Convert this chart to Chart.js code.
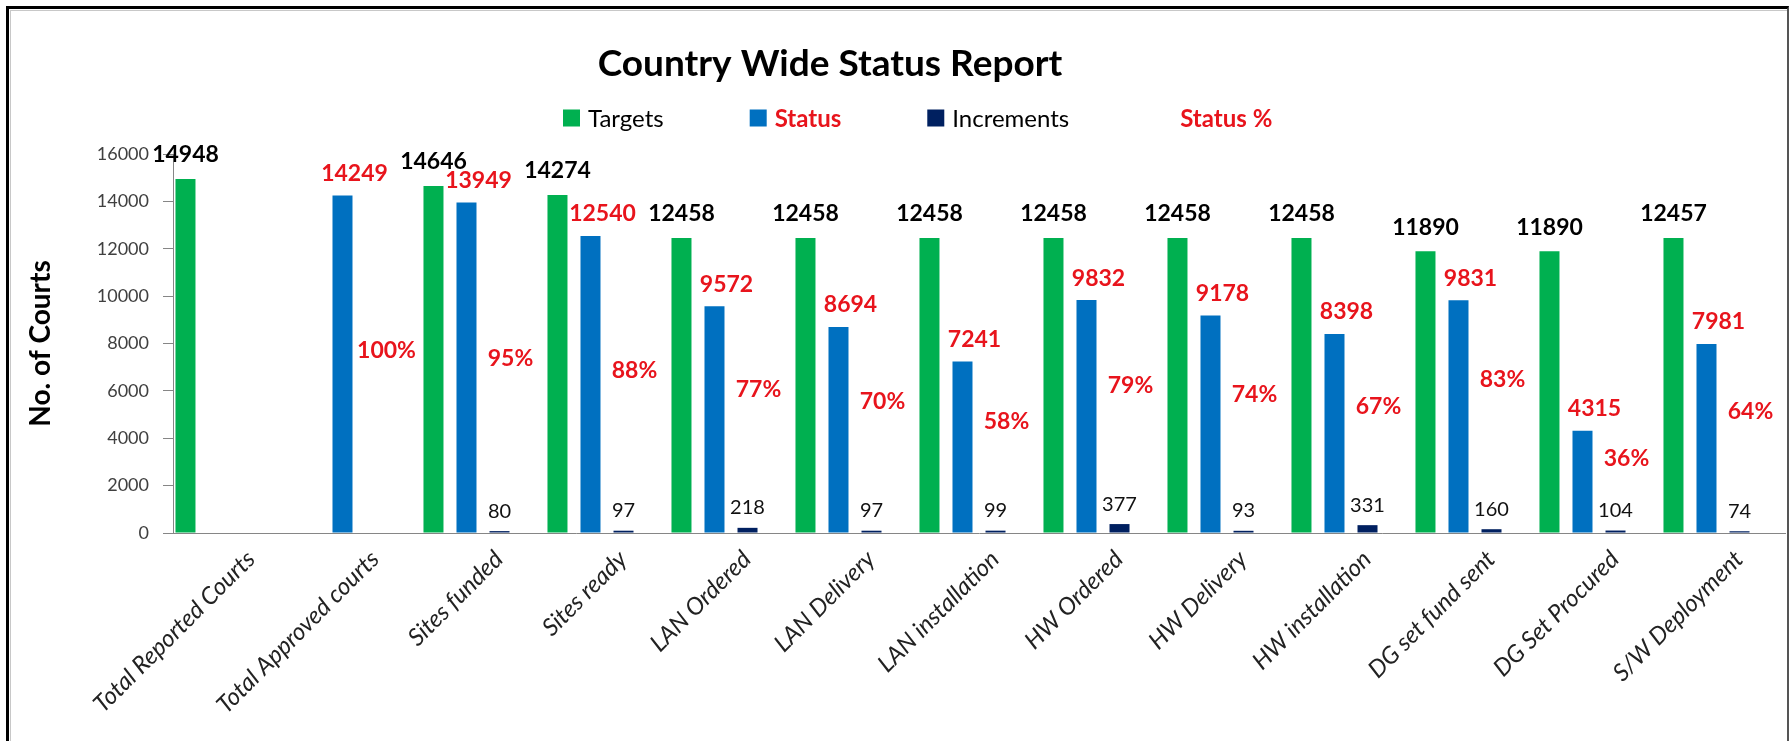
<!DOCTYPE html>
<html>
<head>
<meta charset="utf-8">
<script src="https://cdn.jsdelivr.net/npm/chart.js@4.4.1/dist/chart.umd.min.js"></script>
<style>
  html, body { margin: 0; padding: 0; background: #fff; }
  #wrap { position: relative; width: 1789px; height: 741px; overflow: hidden; background: #fff; }
  #chart { position: absolute; left: 0; top: 0; }
  /* picture frame: thick black on left/top, thin grey inside */
  #frame { position: absolute; left: 6px; top: 6px; width: 1778px; height: 800px;
           border-left: 3px solid #000; border-top: 3px solid #000; border-right: 2px solid #555; pointer-events: none; }
  #inner { position: absolute; left: 10px; top: 10px; width: 1800px; height: 800px;
           border-left: 1px solid #c8c8c8; border-top: 1px solid #c8c8c8; pointer-events: none; }
</style>
</head>
<body>
<div id="wrap">
  <canvas id="chart" width="1789" height="741"></canvas>
  <div id="inner"></div>
  <div id="frame"></div>
</div>
<script>
// chart data
const categories = [
  'Total Reported Courts', 'Total Approved courts', 'Sites funded', 'Sites ready',
  'LAN Ordered', 'LAN Delivery', 'LAN installation', 'HW Ordered', 'HW Delivery',
  'HW installation', 'DG set fund sent', 'DG Set Procured', 'S/W Deployment'
];
const targets    = [14948, null, 14646, 14274, 12458, 12458, 12458, 12458, 12458, 12458, 11890, 11890, 12457];
const status     = [null, 14249, 13949, 12540, 9572, 8694, 7241, 9832, 9178, 8398, 9831, 4315, 7981];
const increments = [null, null, 80, 97, 218, 97, 99, 377, 93, 331, 160, 104, 74];
const statusPct  = [null, 100, 95, 88, 77, 70, 58, 79, 74, 67, 83, 36, 64];

// y axis ticks
const yMin = 0;
const yMax = 16000;
const yStep = 2000;

const RED = '#E8141C';
Chart.defaults.font.family = 'Lato, "Open Sans", sans-serif';

// how each series' value labels look
const labelStyle = [
  { font: 'bold 23px Lato', color: '#000', dx: 0,   dy: 24, fmt: v => String(v) },
  { font: 'bold 23px Lato', color: RED,    dx: 12,  dy: 22, fmt: v => String(v) },
  { font: '20px Lato',      color: '#111', dx: 0,   dy: 20, fmt: v => String(v) },
  { font: 'bold 23px Lato', color: RED,    dx: -22, dy: 14, fmt: v => v + '%' }
];

// value labels above the bars
const valueLabels = {
  id: 'valueLabels',
  afterDatasetsDraw(chart) {
    const ctx = chart.ctx;
    ctx.save();
    ctx.textAlign = 'center';
    ctx.textBaseline = 'middle';
    chart.data.datasets.forEach((ds, i) => {
      const st = labelStyle[i];
      chart.getDatasetMeta(i).data.forEach((bar, j) => {
        const v = ds.data[j];
        if (v === null || v === undefined) return;
        ctx.font = st.font;
        ctx.fillStyle = st.color;
        ctx.fillText(st.fmt(v), bar.x + st.dx, bar.y - st.dy);
      });
    });
    ctx.restore();
  }
};

// title and legend drawn the way the spreadsheet placed them
const titleAndLegend = {
  id: 'titleAndLegend',
  afterDraw(chart) {
    const ctx = chart.ctx;
    ctx.save();
    ctx.fillStyle = '#000';
    ctx.font = 'bold 37px Lato';
    ctx.textAlign = 'center';
    ctx.textBaseline = 'alphabetic';
    ctx.fillText('Country Wide Status Report', 830, 76);

    // legend row
    let x = 563;
    const cy = 118;
    const box = 17;
    ctx.textAlign = 'left';
    ctx.textBaseline = 'middle';
    chart.data.datasets.forEach(ds => {
      if (ds.legendBox) {
        ctx.fillStyle = ds.legendBox;
        ctx.fillRect(x, cy - box / 2, box, box);
      }
      ctx.font = (ds.legendBold ? 'bold ' : '') + '24px Lato';
      ctx.fillStyle = ds.legendColor;
      ctx.fillText(ds.label, x + box + 8, cy + 1);
      x += box + 8 + ctx.measureText(ds.label).width + 86;
    });
    ctx.restore();
  }
};

const ctx = document.getElementById('chart').getContext('2d');
const chart = new Chart(ctx, {
  type: 'bar',
  data: {
    labels: categories,
    datasets: [
      { label: 'Targets', data: targets, backgroundColor: '#00B050',
        legendBox: '#00B050', legendColor: '#000', legendBold: false },
      { label: 'Status', data: status, backgroundColor: '#0070C0',
        legendBox: '#0070C0', legendColor: RED, legendBold: true },
      { label: 'Increments', data: increments, backgroundColor: '#002060',
        legendBox: '#002060', legendColor: '#000', legendBold: false },
      { label: 'Status %', data: statusPct, backgroundColor: 'rgba(0,0,0,0)', yAxisID: 'yPct',
        legendBox: null, legendColor: RED, legendBold: true }
    ]
  },
  options: {
    responsive: false,
    animation: false,
    categoryPercentage: 1.065,
    barPercentage: 0.606,
    layout: { padding: { top: 154, right: 4, bottom: 0, left: 0 } },
    plugins: {
      legend: { display: false },
      title: { display: false },
      tooltip: { enabled: false }
    },
    scales: {
      x: {
        grid: { display: false, drawTicks: false },
        border: { display: true, color: '#868686', width: 1 },
        ticks: {
          autoSkip: false, minRotation: 45, maxRotation: 45,
          color: '#222', padding: 12, labelOffset: 16,
          font: { size: 24, style: 'italic' }
        },
        afterFit(scale) { scale.height = 208; }
      },
      y: {
        min: yMin, max: yMax,
        ticks: { stepSize: yStep, color: '#404040', padding: 14, font: { size: 18 },
                 callback: v => String(v) },
        grid: { drawOnChartArea: false, drawTicks: true, tickLength: 10, color: '#868686' },
        border: { display: true, color: '#868686', width: 1 },
        title: {
          display: true, text: 'No. of Courts', color: '#000',
          font: { size: 28, weight: 'bold' }, padding: { top: 24, bottom: 0 }
        },
        afterFit(scale) { scale.width = 173; }
      },
      yPct: {
        display: false, min: 0, max: 225
      }
    }
  },
  plugins: [valueLabels, titleAndLegend]
});
</script>
</body>
</html>
